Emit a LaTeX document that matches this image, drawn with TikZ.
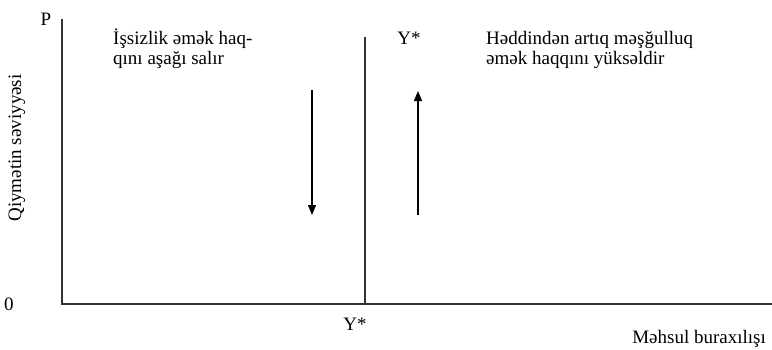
\documentclass[tikz,border=0pt]{standalone}
\usepackage{fontspec}
\setmainfont{Liberation Serif}
\usetikzlibrary{arrows.meta}
\tikzset{
  axisline/.style={line width=1.4pt, black!80},
  moveline/.style={line width=1.3pt, black, -{Triangle[length=10pt,width=8pt]}},
  lbl/.style={inner sep=0pt, font=\fontsize{19}{20}\selectfont},
  note/.style={lbl, anchor=base west, align=left}
}
\begin{document}
\begin{tikzpicture}[x=1pt, y=1pt]
  \useasboundingbox (0,0) rectangle (772,349);
  % axes
  \coordinate (o) at (62,45);
  \coordinate (ytop) at (62,330);
  \coordinate (xend) at (772,45);
  \draw[axisline] (ytop) -- (o) -- (xend);
  \node[lbl] (plab) at (46,330) {P};
  \node[lbl] (zero) at (9,45) {0};
  \node[lbl, rotate=90] (ylab) at (17,201) {Qiymətin səviyyəsi};
  \node[lbl, anchor=base east] (xlab) at (766,6) {Məhsul buraxılışı};

  % potential output
  \coordinate (ysbot) at (365,45);
  \coordinate (ystop) at (365,312);
  \draw[axisline] (ysbot) -- (ystop);
  \node[lbl] (ysup) at (409,311) {Y*};
  \node[lbl] (ysdown) at (355,25) {Y*};

  % adjustment
  \node[note] (left) at (113,284) {İşsizlik əmək haq-\\qını aşağı salır};
  \node[note] (right) at (486,284) {Həddindən artıq məşğulluq\\əmək haqqını yüksəldir};
  \coordinate (dtop) at (312,259);
  \coordinate (dbot) at (312,134);
  \coordinate (ubot) at (418,134);
  \coordinate (utop) at (418,258);
  \draw[moveline] (dtop) -- (dbot);
  \draw[moveline] (ubot) -- (utop);
\end{tikzpicture}
\end{document}
